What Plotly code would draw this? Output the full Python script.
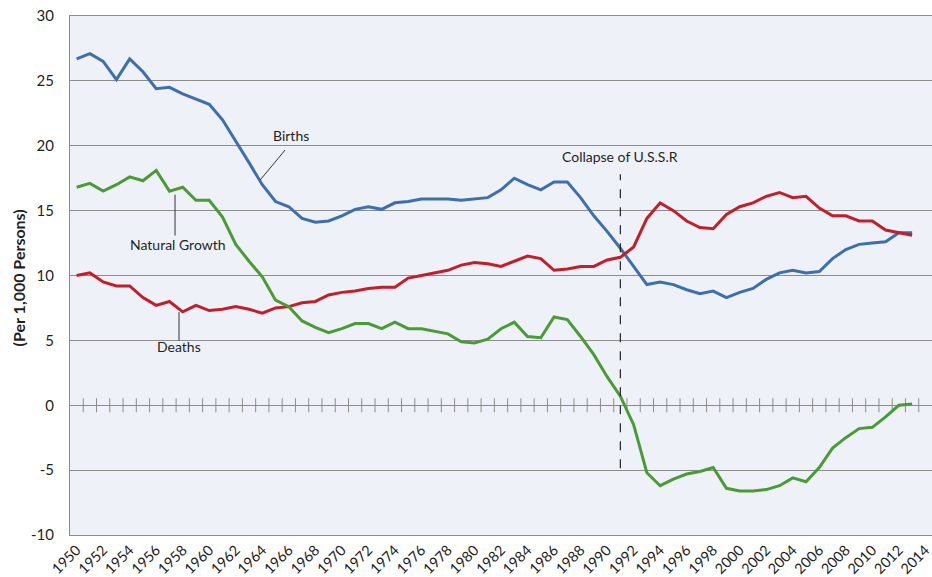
import plotly.graph_objects as go

years = list(range(1950, 2014))
label_years = list(range(1950, 2015, 2))
tick_labels = [str(y) for y in label_years]
y_ticks = [-10, -5, 0, 5, 10, 15, 20, 25, 30]
y_tick_labels = ["-10", "-5", "0", "5", "10", "15", "20", "25", "30"]

births = [26.7, 27.1, 26.5, 25.1, 26.7, 25.7, 24.4, 24.5, 24.0, 23.6,
          23.2, 22.0, 20.4, 18.7, 17.0, 15.7, 15.3, 14.4, 14.1, 14.2,
          14.6, 15.1, 15.3, 15.1, 15.6, 15.7, 15.9, 15.9, 15.9, 15.8,
          15.9, 16.0, 16.6, 17.5, 17.0, 16.6, 17.2, 17.2, 16.0, 14.6,
          13.4, 12.1, 10.7, 9.3, 9.5, 9.3, 8.9, 8.6, 8.8, 8.3,
          8.7, 9.0, 9.7, 10.2, 10.4, 10.2, 10.3, 11.3, 12.0, 12.4,
          12.5, 12.6, 13.3, 13.3]

deaths = [10.0, 10.2, 9.5, 9.2, 9.2, 8.3, 7.7, 8.0, 7.2, 7.7,
          7.3, 7.4, 7.6, 7.4, 7.1, 7.5, 7.6, 7.9, 8.0, 8.5,
          8.7, 8.8, 9.0, 9.1, 9.1, 9.8, 10.0, 10.2, 10.4, 10.8,
          11.0, 10.9, 10.7, 11.1, 11.5, 11.3, 10.4, 10.5, 10.7, 10.7,
          11.2, 11.4, 12.2, 14.4, 15.6, 15.0, 14.2, 13.7, 13.6, 14.7,
          15.3, 15.6, 16.1, 16.4, 16.0, 16.1, 15.2, 14.6, 14.6, 14.2,
          14.2, 13.5, 13.3, 13.1]

growth = [16.8, 17.1, 16.5, 17.0, 17.6, 17.3, 18.1, 16.5, 16.8, 15.8,
          15.8, 14.5, 12.4, 11.1, 9.9, 8.1, 7.6, 6.5, 6.0, 5.6,
          5.9, 6.3, 6.3, 5.9, 6.4, 5.9, 5.9, 5.7, 5.5, 4.9,
          4.8, 5.1, 5.9, 6.4, 5.3, 5.2, 6.8, 6.6, 5.3, 3.9,
          2.2, 0.7, -1.5, -5.2, -6.2, -5.7, -5.3, -5.1, -4.8, -6.4,
          -6.6, -6.6, -6.5, -6.2, -5.6, -5.9, -4.8, -3.3, -2.5, -1.8,
          -1.7, -0.9, 0.0, 0.1]

collapse_year = 1991

FONT = "Lato"
TXT = "#1F1F1F"
GRID = "#8C8C8C"

fig = go.Figure()

# tick marks crossing the zero line, at category boundaries
bounds = [y + 0.5 for y in years]
fig.add_trace(go.Scatter(x=bounds, y=[0] * len(bounds), mode="markers",
                         marker=dict(symbol="line-ns", size=10,
                                     line=dict(color=GRID, width=1)),
                         hoverinfo="skip", showlegend=False))

fig.add_trace(go.Scatter(x=years, y=births, mode="lines", name="Births",
                         line=dict(color="#3D6EAD", width=3)))
fig.add_trace(go.Scatter(x=years, y=deaths, mode="lines", name="Deaths",
                         line=dict(color="#C41E2A", width=3)))
fig.add_trace(go.Scatter(x=years, y=growth, mode="lines", name="Natural Growth",
                         line=dict(color="#4A9B36", width=3)))

shapes = [
    dict(type="line", x0=collapse_year, x1=collapse_year, y0=-4.85, y1=17.8,
         xref="x", yref="y", line=dict(color="#222", width=1.2, dash="dash")),
    dict(type="line", x0=1963.84, y0=17.36, x1=1965.72, y1=19.67,
         xref="x", yref="y", line=dict(color="#333", width=1)),
    dict(type="line", x0=1957.42, y0=16.23, x1=1957.42, y1=13.08,
         xref="x", yref="y", line=dict(color="#333", width=1)),
    dict(type="line", x0=1957.72, y0=7.18, x1=1957.72, y1=5.0,
         xref="x", yref="y", line=dict(color="#333", width=1)),
]

ann_font = dict(family=FONT, size=14, color=TXT)
annotations = [
    dict(x=1966.2, y=20.77, text="Births", showarrow=False, font=ann_font),
    dict(x=1957.65, y=12.38, text="Natural Growth", showarrow=False, font=ann_font),
    dict(x=1957.72, y=4.54, text="Deaths", showarrow=False, font=ann_font),
    dict(x=collapse_year, y=19.15, text="Collapse of U.S.S.R", showarrow=False, font=ann_font),
    dict(x=-0.06, y=0.495, xref="paper", yref="paper", xanchor="center", yanchor="middle",
         text="<b>(Per 1,000 Persons)</b>",
         textangle=-90, showarrow=False, font=dict(family=FONT, size=16, color=TXT)),
]

fig.update_layout(
    width=932, height=577,
    margin=dict(l=70, r=0, t=16, b=42),
    paper_bgcolor="white",
    plot_bgcolor="#EEF2F8",
    showlegend=False,
    shapes=shapes,
    annotations=annotations,
    xaxis=dict(range=[1949.5, 2014.5], tickmode="array", tickvals=label_years,
               ticktext=tick_labels, tickangle=-45, showgrid=False, zeroline=False,
               showline=True, mirror=True, linecolor=GRID, linewidth=1,
               ticks="", automargin=False, ticklabeloverflow="allow",
               tickfont=dict(family=FONT, size=14.5, color=TXT)),
    yaxis=dict(range=[-10, 30], tickmode="array", tickvals=y_ticks,
               ticktext=y_tick_labels, showgrid=True, gridcolor=GRID,
               gridwidth=1, zeroline=True, zerolinecolor=GRID, zerolinewidth=1,
               showline=True, linecolor=GRID, linewidth=1, ticks="",
               automargin=False, ticklabelstandoff=12,
               tickfont=dict(family=FONT, size=15, color=TXT)),
)

fig.write_html("out.html", config={"displayModeBar": False},
               post_script="document.body.style.margin='0';")
